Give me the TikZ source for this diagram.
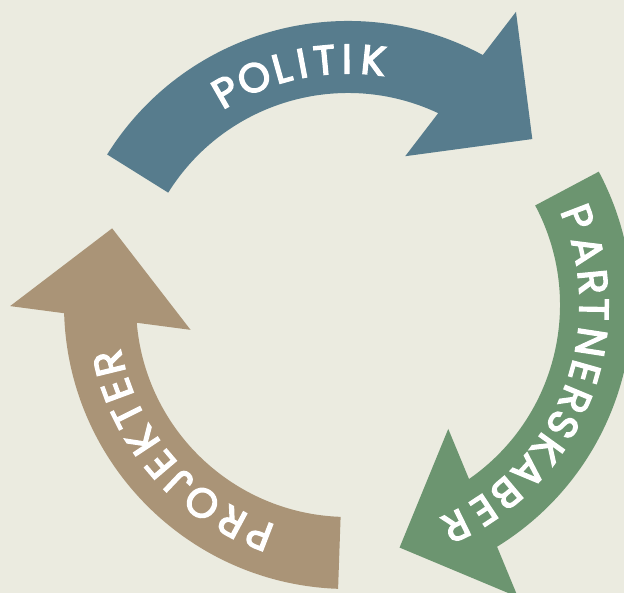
\documentclass[tikz,border=0pt]{standalone}
\usepackage{fontspec}
\newfontfamily\cyclefont{Poppins}[FakeBold=3.5]
\usetikzlibrary{calc}

\definecolor{politikblue}{HTML}{577C8D}
\definecolor{partnergreen}{HTML}{6C9570}
\definecolor{projektbrown}{HTML}{AA9477}
\definecolor{paper}{HTML}{EBEBE0}

\tikzset{
  letter/.style={font=\cyclefont\fontsize{41}{41}\selectfont,
                 text=white, inner sep=0pt, anchor=center},
}

\begin{document}
\begin{tikzpicture}
  \fill[paper] (0,0) rectangle (624pt,593pt);
  \useasboundingbox (0,0) rectangle (624pt,593pt);
  \clip (0,0) rectangle (624pt,593pt);

  \begin{scope}[shift={(348pt,288pt)}]
    % the three arrows, one turned from the other
    \foreach \rot/\col/\nm in {0/politikblue/pol,-120/partnergreen/par,-240/projektbrown/pro}
    {
      \begin{scope}[rotate=\rot]
        \coordinate (\nm-base) at (63:248pt);
        \coordinate (\nm-tip)  at (42:248pt);
        \fill[\col] (148:284pt) arc[start angle=148, end angle=61.66, radius=284pt]
          -- ($(\nm-base)!91pt!90:(\nm-tip)$) -- (\nm-tip)
          -- ($(\nm-base)!91pt!-90:(\nm-tip)$)
          -- (64.81:212pt) arc[start angle=64.81, end angle=148, radius=212pt] -- cycle;
      \end{scope}
    }

    % letters
    \foreach \ang/\ch [count=\i] in {119.8/P,112.45/O,105.65/L,100.75/I,95.45/T,90.25/I,84.05/K}
      \node[letter, rotate=\ang-90] (pol-\i) at (\ang:246pt) {\ch};
    \foreach \ang/\ch [count=\i] in {20.9/P,12.9/A,5.4/R,-1.0/T,-8.7/N,-15.8/E,-22.6/R,
                                      -29.1/S,-35.8/K,-42.6/A,-49.9/B,-56.5/E,-64.0/R}
      \node[letter, rotate=\ang-90] (par-\i) at (\ang:246pt) {\ch};
    \foreach \ang/\ch [count=\i] in {248.9/P,241.8/R,233.6/O,226.5/J,220.4/E,
                                      213.4/K,206.5/T,200.3/E,193.7/R}
      \node[letter, rotate=\ang-90] (pro-\i) at (\ang:246pt) {\ch};
  \end{scope}
\end{tikzpicture}
\end{document}
